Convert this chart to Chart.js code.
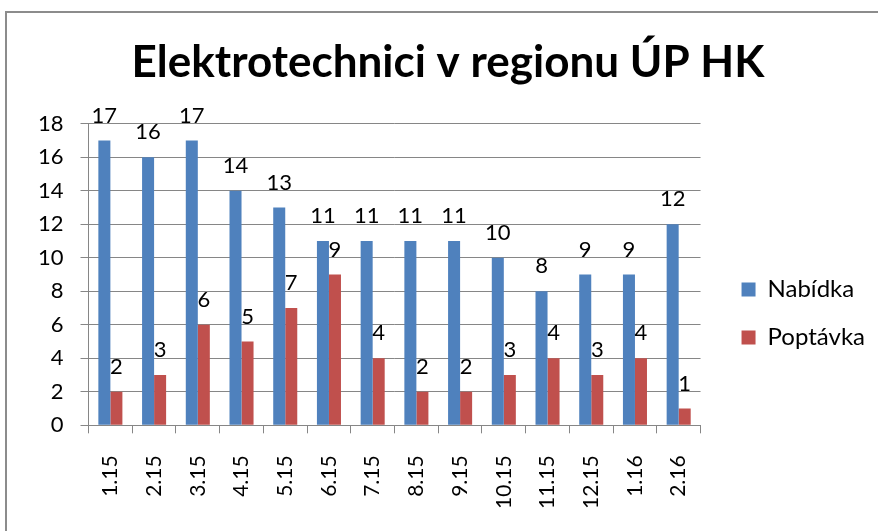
<!DOCTYPE html>
<html>
<head>
<meta charset="utf-8">
<script src="https://cdn.jsdelivr.net/npm/chart.js@4.4.0/dist/chart.umd.min.js"></script>
<style>
  html, body { margin: 0; padding: 0; background: #fff; }
  #wrap { width: 878px; height: 531px; position: relative; }
</style>
</head>
<body>
<div id="wrap"><canvas id="chart"></canvas></div>
<script>
// data
const months = ['1.15', '2.15', '3.15', '4.15', '5.15', '6.15', '7.15', '8.15', '9.15', '10.15', '11.15', '12.15', '1.16', '2.16'];
const nabidka = [17, 16, 17, 14, 13, 11, 11, 11, 11, 10, 8, 9, 9, 12];
const poptavka = [2, 3, 6, 5, 7, 9, 4, 2, 2, 3, 4, 3, 4, 1];

const FONT = "Lato, 'Open Sans', sans-serif";

// value labels above each bar
const barLabels = {
  id: 'barLabels',
  afterDatasetsDraw(chart) {
    const c = chart.ctx;
    c.save();
    c.font = '22px ' + FONT;
    c.fillStyle = '#000';
    c.textAlign = 'center';
    c.textBaseline = 'bottom';
    chart.data.datasets.forEach((ds, i) => {
      chart.getDatasetMeta(i).data.forEach((bar, j) => {
        c.fillText(ds.data[j], bar.x, bar.y - 14);
      });
    });
    c.restore();
  }
};

// outer frame (only top and left are visible in the picture)
const frame = {
  id: 'frame',
  beforeDraw(chart) {
    const c = chart.ctx;
    c.save();
    c.strokeStyle = '#8c8c8c';
    c.lineWidth = 2;
    c.beginPath();
    c.moveTo(6, chart.height);
    c.lineTo(6, 12);
    c.lineTo(chart.width, 12);
    c.stroke();
    c.restore();
  }
};

// leave a bit more room between plot and legend, and nudge the legend
const legendGap = {
  id: 'legendGap',
  afterInit(chart) {
    const lg = chart.legend;
    const fit = lg.fit;
    lg.fit = function () {
      fit.call(this);
      this.width += 17;
    };
    const draw = lg.draw;
    lg.draw = function () {
      const c = this.ctx;
      c.save();
      c.translate(17, 48);
      draw.call(this);
      c.restore();
    };
  }
};

new Chart(document.getElementById('chart'), {
  type: 'bar',
  data: {
    labels: months,
    datasets: [
      { label: 'Nabídka', data: nabidka, backgroundColor: '#4F81BD' },
      { label: 'Poptávka', data: poptavka, backgroundColor: '#C0504D' }
    ]
  },
  options: {
    responsive: true,
    maintainAspectRatio: false,
    animation: false,
    categoryPercentage: 0.55,
    barPercentage: 1,
    layout: { padding: { left: 21, right: 3, top: 0, bottom: 0 } },
    plugins: {
      title: {
        display: true,
        text: 'Elektrotechnici v regionu ÚP HK',
        color: '#000',
        font: { family: FONT, size: 44, weight: 'bold' },
        padding: { top: 36, bottom: 35 }
      },
      legend: {
        position: 'right',
        labels: {
          color: '#000',
          boxWidth: 14,
          boxHeight: 14,
          padding: 24,
          font: { family: FONT, size: 24 }
        }
      },
      tooltip: { enabled: false }
    },
    scales: {
      x: {
        grid: { display: true, drawOnChartArea: false, offset: true, tickLength: 8, color: '#868686' },
        border: { color: '#868686' },
        ticks: { color: '#000', font: { family: FONT, size: 21 }, minRotation: 90, maxRotation: 90, padding: 22 }
      },
      y: {
        min: 0,
        max: 18,
        grid: { color: '#868686', tickLength: 8 },
        border: { color: '#868686' },
        ticks: { stepSize: 2, color: '#000', font: { family: FONT, size: 22 }, padding: 17 }
      }
    }
  },
  plugins: [barLabels, frame, legendGap]
});
</script>
</body>
</html>
